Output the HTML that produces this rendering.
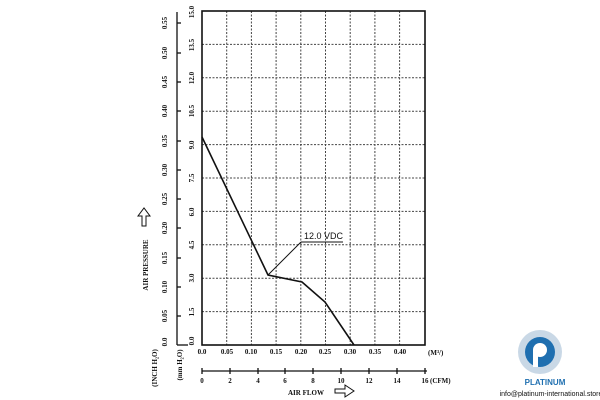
<!DOCTYPE html>
<html><head><style>body{margin:0;background:#fff}svg{display:block}text{font-family:"Liberation Serif",serif;font-weight:bold;fill:#111}</style></head>
<body>
<svg width="600" height="400" viewBox="0 0 600 400" xmlns="http://www.w3.org/2000/svg">
<g stroke="#444" stroke-width="1" stroke-dasharray="2,1.5">
<line x1="226.7" y1="11" x2="226.7" y2="345"/><line x1="251.4" y1="11" x2="251.4" y2="345"/><line x1="276.1" y1="11" x2="276.1" y2="345"/><line x1="300.8" y1="11" x2="300.8" y2="345"/><line x1="325.5" y1="11" x2="325.5" y2="345"/><line x1="350.2" y1="11" x2="350.2" y2="345"/><line x1="374.9" y1="11" x2="374.9" y2="345"/><line x1="399.6" y1="11" x2="399.6" y2="345"/>
<line x1="202" y1="44.4" x2="425" y2="44.4"/><line x1="202" y1="77.8" x2="425" y2="77.8"/><line x1="202" y1="111.2" x2="425" y2="111.2"/><line x1="202" y1="144.6" x2="425" y2="144.6"/><line x1="202" y1="178" x2="425" y2="178"/><line x1="202" y1="211.4" x2="425" y2="211.4"/><line x1="202" y1="244.8" x2="425" y2="244.8"/><line x1="202" y1="278.2" x2="425" y2="278.2"/><line x1="202" y1="311.6" x2="425" y2="311.6"/>
</g>
<rect x="202" y="11" width="223" height="334" fill="none" stroke="#111" stroke-width="1.6"/>
<polyline points="202,137 268,275 302,282 325,302 354,345" fill="none" stroke="#111" stroke-width="1.6"/>
<line x1="268" y1="275" x2="301" y2="242" stroke="#111" stroke-width="1"/>
<line x1="301" y1="242" x2="343" y2="242" stroke="#111" stroke-width="1"/>
<text x="304" y="239" style="font-family:'Liberation Sans',sans-serif;font-weight:normal" font-size="9">12.0 VDC</text>
<g font-size="7" text-anchor="middle">
<text transform="translate(194,12) rotate(-90)">15.0</text><text transform="translate(194,45) rotate(-90)">13.5</text><text transform="translate(194,78) rotate(-90)">12.0</text><text transform="translate(194,111) rotate(-90)">10.5</text><text transform="translate(194,145) rotate(-90)">9.0</text><text transform="translate(194,178) rotate(-90)">7.5</text><text transform="translate(194,212) rotate(-90)">6.0</text><text transform="translate(194,245) rotate(-90)">4.5</text><text transform="translate(194,278) rotate(-90)">3.0</text><text transform="translate(194,312) rotate(-90)">1.5</text><text transform="translate(194,341) rotate(-90)">0.0</text>
<text transform="translate(167,23) rotate(-90)">0.55</text><text transform="translate(167,53) rotate(-90)">0.50</text><text transform="translate(167,82) rotate(-90)">0.45</text><text transform="translate(167,111) rotate(-90)">0.40</text><text transform="translate(167,141) rotate(-90)">0.35</text><text transform="translate(167,170) rotate(-90)">0.30</text><text transform="translate(167,199) rotate(-90)">0.25</text><text transform="translate(167,228) rotate(-90)">0.20</text><text transform="translate(167,258) rotate(-90)">0.15</text><text transform="translate(167,287) rotate(-90)">0.10</text><text transform="translate(167,316) rotate(-90)">0.05</text><text transform="translate(167,342) rotate(-90)">0.0</text>
<text x="202" y="354">0.0</text><text x="227" y="354">0.05</text><text x="251" y="354">0.10</text><text x="276" y="354">0.15</text><text x="301" y="354">0.20</text><text x="325" y="354">0.25</text><text x="350" y="354">0.30</text><text x="375" y="354">0.35</text><text x="400" y="354">0.40</text>
<text x="202" y="383">0</text><text x="230" y="383">2</text><text x="258" y="383">4</text><text x="285" y="383">6</text><text x="313" y="383">8</text><text x="341" y="383">10</text><text x="369" y="383">12</text><text x="397" y="383">14</text><text x="425" y="383">16</text>
</g>
<line x1="177" y1="12" x2="177" y2="345" stroke="#111" stroke-width="1.3"/>
<g stroke="#111" stroke-width="1.3">
<line x1="177" y1="23" x2="181" y2="23"/><line x1="177" y1="53" x2="181" y2="53"/><line x1="177" y1="82" x2="181" y2="82"/><line x1="177" y1="111" x2="181" y2="111"/><line x1="177" y1="141" x2="181" y2="141"/><line x1="177" y1="170" x2="181" y2="170"/><line x1="177" y1="199" x2="181" y2="199"/><line x1="177" y1="228" x2="181" y2="228"/><line x1="177" y1="258" x2="181" y2="258"/><line x1="177" y1="287" x2="181" y2="287"/><line x1="177" y1="316" x2="181" y2="316"/><line x1="177" y1="345" x2="188" y2="345"/>
<line x1="202" y1="371" x2="427" y2="371"/>
<line x1="202" y1="368" x2="202" y2="374"/><line x1="230" y1="368" x2="230" y2="374"/><line x1="258" y1="368" x2="258" y2="374"/><line x1="285" y1="368" x2="285" y2="374"/><line x1="313" y1="368" x2="313" y2="374"/><line x1="341" y1="368" x2="341" y2="374"/><line x1="369" y1="368" x2="369" y2="374"/><line x1="397" y1="368" x2="397" y2="374"/><line x1="425" y1="368" x2="425" y2="374"/>
</g>
<text x="428" y="355" font-size="7">(M³/)</text>
<text x="430" y="383" font-size="7">(CFM)</text>
<text x="288" y="395" font-size="7">AIR FLOW</text>
<path d="M335,389 h10 v-4 l9,6 l-9,6 v-4 h-10z" fill="none" stroke="#111" stroke-width="1"/>
<text transform="translate(148,265) rotate(-90)" font-size="7" text-anchor="middle">AIR PRESSURE</text>
<path d="M142,226 v-10 h-4 l6,-8 l6,8 h-4 v10z" fill="none" stroke="#111" stroke-width="1"/>
<text transform="translate(157,368) rotate(-90)" font-size="7" text-anchor="middle">(INCH H₂O)</text>
<text transform="translate(182,365) rotate(-90)" font-size="7" text-anchor="middle">(mm H₂O)</text>
<circle cx="540" cy="352" r="22" fill="#c9d8e6"/>
<circle cx="540" cy="352" r="15" fill="#1f6fb0"/>
<circle cx="540" cy="350" r="7" fill="#fff"/>
<rect x="533" y="350" width="5" height="17" fill="#fff"/>
<text x="545" y="385" font-size="8" text-anchor="middle" style="font-family:'Liberation Sans',sans-serif;fill:#1f6fb0">PLATINUM</text>
<text x="551" y="396" font-size="7" text-anchor="middle" style="font-family:'Liberation Sans',sans-serif;font-weight:normal">info@platinum-international.store</text>
</svg>
</body></html>
